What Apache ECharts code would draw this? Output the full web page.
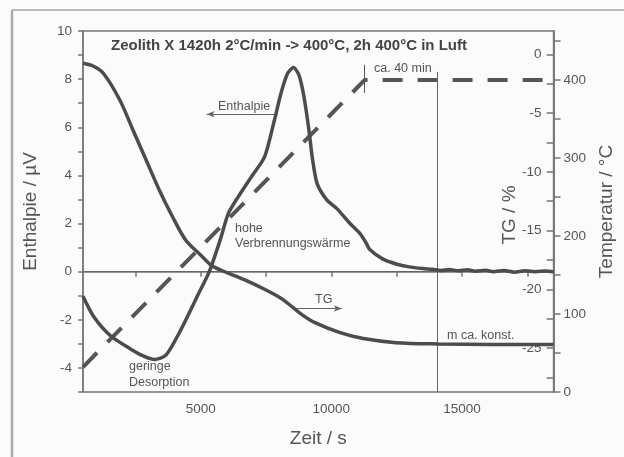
<!DOCTYPE html>
<html>
<head>
<meta charset="utf-8">
<script src="https://cdn.jsdelivr.net/npm/echarts@6/dist/echarts.min.js"></script>
<style>html,body{margin:0;padding:0;background:#fbfbfb;}#c{width:624px;height:457px;}</style>
</head>
<body>
<div id="c"></div>
<script>
// ---- data ----
const timeTicks = [2500, 5000, 7500, 10000, 12500, 15000, 17500];
const timeLabels = [5000, 10000, 15000];
const enthalpyTicks = [-5,-4,-3,-2,-1,0,1,2,3,4,5,6,7,8,9,10];
const enthalpyLabels = [-4,-2,0,2,4,6,8,10];
const tgTicks = [0,-2.5,-5,-7.5,-10,-12.5,-15,-17.5,-20,-22.5,-25,-27.5];
const tgLabels = [0,-5,-10,-15,-20,-25];
const tempTicks = [0,50,100,150,200,250,300,350,400,450];
const tempLabels = [0,100,200,300,400];

// Enthalpie (µV) vs time (s)
const enthalpie = [
  [500,-1.02],[900,-1.85],[1530,-2.64],[2285,-3.19],[2800,-3.5],[3230,-3.65],[3670,-3.47],
  [4236,-2.43],[4927,-0.9],[5330,0.0],[5745,1.31],[6060,2.42],[6437,3.11],[6940,3.94],
  [7444,4.77],[7821,6.29],[8071,7.40],[8323,8.23],[8550,8.48],[8765,8.16],[8954,7.26],
  [9143,5.88],[9267,4.77],[9456,3.66],[9833,2.97],[10210,2.62],[10713,2.0],[11090,1.59],
  [11343,1.17],[11468,0.92],[11973,0.52],[12475,0.32],[12977,0.2],[13500,0.13],[13860,0.1],
  [14200,0.05],[14500,0.09],[14870,0.04],[15200,0.08],[15500,0.02],[15900,0.06],[16200,0.0],
  [16600,0.05],[17000,-0.02],[17400,0.04],[17800,0.0],[18200,0.03],[18500,0.0]
];
// TG (%) vs time (s)
const tg = [
  [500,-0.75],[900,-1.0],[1278,-1.6],[1908,-3.88],[2410,-6.43],[2915,-8.99],[3417,-11.54],
  [3920,-13.8],[4425,-15.8],[5052,-17.2],[5429,-18.0],[5806,-18.4],[6690,-19.2],[7444,-20.0],
  [8100,-20.8],[8500,-21.5],[8900,-22.2],[9331,-22.8],[10335,-23.7],[11218,-24.2],[12475,-24.55],
  [14110,-24.66],[16000,-24.7],[18500,-24.7]
];
// Temperatur (°C) vs time (s)
const temperatur = [[500,32],[11270,400],[18500,400]];

// annotation helpers (data space)
const zeroLine = 0;
const endLine = [[14050, 8.3], [14050, -5]];
const enthalpieArrow = [[7949, 6.54], [5229, 6.54]];
const tgArrow = [[8588, -1.53], [10400, -1.53]];
const fortyMinMark = [[11270, 419.6], [11270, 383.7]];

const FONT = "'Liberation Sans', Arial, sans-serif";
const GREY = '#555';
const LINE = '#4c4c4c';
const AX = '#777';

const chart = echarts.init(document.getElementById('c'));
const annStyle = (t, x, y) => ({
  type: 'text', x: x, y: y, silent: true,
  style: { text: t, font: '12.5px ' + FONT, fill: GREY, textAlign: 'left', textVerticalAlign: 'middle' }
});
const plain = v => String(v);

chart.setOption({
  backgroundColor: '#fbfbfb',
  animation: false,
  title: {
    text: 'Zeolith X 1420h 2°C/min -> 400°C, 2h 400°C in Luft',
    left: 111, top: 38, padding: 0,
    textStyle: { fontFamily: FONT, fontSize: 15, fontWeight: 'bold', color: '#444' }
  },
  grid: { left: 83, right: 64, top: 31, bottom: 65, show: true, borderColor: AX, borderWidth: 1.5, backgroundColor: 'transparent' },
  xAxis: {
    type: 'value', min: 500, max: 18500,
    name: 'Zeit / s', nameLocation: 'middle', nameGap: 37,
    nameTextStyle: { fontFamily: FONT, fontSize: 19, color: GREY },
    axisLine: { lineStyle: { color: AX, width: 1.5 } },
    axisTick: { length: 5, lineStyle: { color: AX, width: 1.5 }, customValues: timeTicks },
    axisLabel: { customValues: timeLabels, formatter: plain, margin: 10, fontFamily: FONT, fontSize: 13.5, color: GREY },
    splitLine: { show: false }
  },
  yAxis: [
    {
      type: 'value', position: 'left', min: -5, max: 10,
      name: 'Enthalpie / µV', nameLocation: 'middle', nameGap: 43,
      nameTextStyle: { fontFamily: FONT, fontSize: 19, color: GREY },
      axisLine: { show: true, lineStyle: { color: AX, width: 1.5 } },
      axisTick: { show: true, length: 5, lineStyle: { color: AX, width: 1.5 }, customValues: enthalpyTicks },
      axisLabel: { customValues: enthalpyLabels, formatter: plain, margin: 11, fontFamily: FONT, fontSize: 13.5, color: GREY },
      splitLine: { show: false }
    },
    {
      type: 'value', position: 'right', min: -28.75, max: 2,
      axisLine: { show: true, lineStyle: { color: AX, width: 1.5 } },
      axisTick: { show: true, inside: true, length: 7, lineStyle: { color: AX, width: 1.5 }, customValues: tgTicks },
      axisLabel: { inside: true, customValues: tgLabels, formatter: plain, margin: 12, fontFamily: FONT, fontSize: 13.5, color: GREY },
      splitLine: { show: false }
    },
    {
      type: 'value', position: 'right', min: 0, max: 463,
      name: 'Temperatur / °C', nameLocation: 'middle', nameGap: 42,
      nameTextStyle: { fontFamily: FONT, fontSize: 19, color: GREY },
      axisLine: { show: true, lineStyle: { color: AX, width: 1.5 } },
      axisTick: { show: true, length: 7, lineStyle: { color: AX, width: 1.5 }, customValues: tempTicks },
      axisLabel: { customValues: tempLabels, formatter: plain, margin: 10, fontFamily: FONT, fontSize: 13.5, color: GREY },
      splitLine: { show: false }
    }
  ],
  series: [
    {
      name: 'Enthalpie', type: 'line', yAxisIndex: 0, data: enthalpie,
      showSymbol: false, smooth: 0.25, lineStyle: { color: LINE, width: 3.5 }, z: 5,
      markLine: {
        silent: true, symbol: 'none', label: { show: false },
        lineStyle: { color: '#666', width: 1, type: 'solid' },
        data: [
          { yAxis: zeroLine },
          [{ coord: endLine[0] }, { coord: endLine[1] }],
          [{ coord: enthalpieArrow[0], symbol: 'none' }, { coord: enthalpieArrow[1], symbol: 'arrow', symbolSize: [5, 8] }],
          [{ coord: tgArrow[0], symbol: 'none' }, { coord: tgArrow[1], symbol: 'arrow', symbolSize: [5, 8] }]
        ]
      }
    },
    {
      name: 'TG', type: 'line', yAxisIndex: 1, data: tg,
      showSymbol: false, smooth: 0.3, lineStyle: { color: LINE, width: 3.5 }, z: 5
    },
    {
      name: 'Temperatur', type: 'line', yAxisIndex: 2, data: temperatur,
      showSymbol: false, lineStyle: { color: '#555', width: 4, type: [20, 15] }, z: 4,
      markLine: {
        silent: true, symbol: 'none', label: { show: false },
        lineStyle: { color: '#555', width: 1, type: 'solid' },
        data: [[{ coord: fortyMinMark[0] }, { coord: fortyMinMark[1] }]]
      }
    }
  ],
  graphic: [
    { type: 'line', silent: true, shape: { x1: 12, y1: 10, x2: 624, y2: 10 }, style: { stroke: '#bbb', lineWidth: 2 } },
    { type: 'line', silent: true, shape: { x1: 12, y1: 10, x2: 12, y2: 457 }, style: { stroke: '#aaa', lineWidth: 2.5 } },
    {
      type: 'text', x: 510, y: 215, rotation: Math.PI / 2, silent: true,
      style: { text: 'TG / %', font: '19px ' + FONT, fill: GREY, textAlign: 'center', textVerticalAlign: 'middle' }
    },
    annStyle('Enthalpie', 218, 107),
    annStyle('hohe', 235, 229),
    annStyle('Verbrennungswärme', 235, 244),
    annStyle('geringe', 129, 367),
    annStyle('Desorption', 129, 383),
    annStyle('TG', 315, 300),
    annStyle('m ca. konst.', 447, 336),
    annStyle('ca. 40 min', 374, 69)
  ]
});
</script>
</body>
</html>
